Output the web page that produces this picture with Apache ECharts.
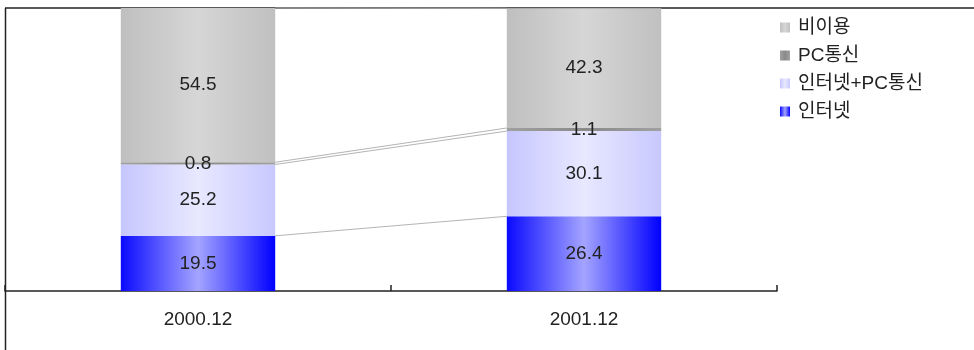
<!DOCTYPE html>
<html><head><meta charset="utf-8">
<script src="https://cdn.jsdelivr.net/npm/echarts@6/dist/echarts.min.js"></script>
<style>html,body{margin:0;padding:0;background:#fff}#c{width:974px;height:350px}</style>
</head><body><div id="c"></div>
<script>
const categories = ['2000.12', '2001.12'];
const internet = [19.5, 26.4];
const internetPc = [25.2, 30.1];
const pcComm = [0.8, 1.1];
const nonUse = [54.5, 42.3];
const seriesNames = ['인터넷', '인터넷+PC통신', 'PC통신', '비이용'];

const FONT = '"Liberation Sans", "Noto Sans CJK KR", sans-serif';
function grad(a, b, c) {
  return new echarts.graphic.LinearGradient(0, 0, 1, 0, [
    {offset: 0, color: a}, {offset: 0.5, color: b}, {offset: 1, color: c}]);
}
const colors = [
  grad('#0a0aff', '#a4a4ff', '#0000ff'),
  grad('#c6c6ff', '#e8e8ff', '#c8c8ff'),
  grad('#a0a0a0', '#8a8a8a', '#a0a0a0'),
  grad('#bfbfbf', '#d6d6d6', '#c0c0c0')
];
const allData = [internet, internetPc, pcComm, nonUse];
// cumulative tops for connecting lines
const cum = categories.map((_, i) => {
  let s = 0; return allData.map(d => (s += d[i]));
});
const BAR_RATIO = 0.4;

const barSeries = allData.map((d, k) => ({
  name: seriesNames[k], type: 'bar', stack: 'total', data: d,
  barWidth: (BAR_RATIO * 100) + '%',
  itemStyle: {color: colors[k]},
  label: {show: true, position: 'inside', color: '#222', fontSize: 19, fontFamily: FONT,
    formatter: p => p.value.toFixed(1)},
  z: 3
}));

const lineSeries = {
  type: 'custom', name: 'lines', silent: true, z: 2,
  data: cum[0].map((_, k) => [0, 0, k]),
  renderItem: function (params, api) {
    const k = api.value(2);
    const half = api.size([1, 0])[0] * BAR_RATIO / 2;
    const p0 = api.coord([0, cum[0][k]]);
    const p1 = api.coord([1, cum[1][k]]);
    return {type: 'line', shape: {x1: p0[0] + half, y1: p0[1], x2: p1[0] - half, y2: p1[1]},
      style: {stroke: '#b4b4b4', lineWidth: 1}};
  }
};

const chart = echarts.init(document.getElementById('c'), null, {renderer: 'canvas'});
chart.setOption({
  animation: false,
  backgroundColor: '#fff',
  grid: {left: 5, right: 197, top: 8, bottom: 59},
  legend: {
    orient: 'vertical', left: 775, top: 13,
    data: seriesNames.slice().reverse(),
    itemWidth: 10, itemHeight: 10, itemGap: 9, icon: 'rect',
    textStyle: {fontSize: 19, color: '#222', fontFamily: FONT, lineHeight: 19, padding: [0, 0, 0, 3]}
  },
  xAxis: {
    type: 'category', data: categories,
    axisLine: {lineStyle: {color: '#222', width: 1.5}},
    axisTick: {show: true, inside: true, length: 6, lineStyle: {color: '#222', width: 1.5}},
    axisLabel: {fontSize: 19, color: '#222', fontFamily: FONT, margin: 19}
  },
  yAxis: {type: 'value', min: 0, max: 100, show: false},
  graphic: [
    {type: 'line', z: 0, shape: {x1: 5.5, y1: 8, x2: 5.5, y2: 350}, style: {stroke: '#222', lineWidth: 1.5}},
    {type: 'line', z: 0, shape: {x1: 5, y1: 8, x2: 974, y2: 8}, style: {stroke: '#222', lineWidth: 1.5}}
  ],
  series: barSeries.concat([lineSeries])
});
</script></body></html>
